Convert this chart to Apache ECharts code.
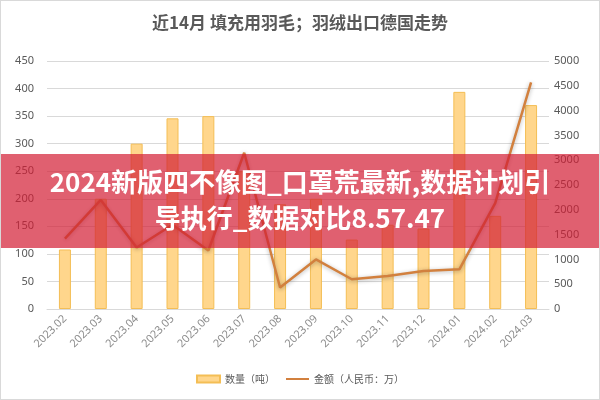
<!DOCTYPE html>
<html>
<head>
<meta charset="utf-8">
<script src="https://cdn.jsdelivr.net/npm/echarts@6/dist/echarts.min.js"></script>
<style>
html,body{margin:0;padding:0;background:#fff;}
#c{width:600px;height:400px;box-sizing:border-box;border:1px solid #d9d9d9;}
</style>
</head>
<body>
<div id="c"></div>
<script>
var categories = ['2023.02','2023.03','2023.04','2023.05','2023.06','2023.07','2023.08','2023.09','2023.10','2023.11','2023.12','2024.01','2024.02','2024.03'];
var quantity = [108, 200, 300, 346, 350, 250, 190, 200, 126, 153, 146, 394, 169, 370];
var amount = [1420, 2200, 1240, 1700, 1180, 3150, 433, 1000, 600, 667, 767, 800, 2133, 4567];
var leftTicks = [0, 450, 50];
var rightTicks = [0, 5000, 500];
var titleText = '近14月 填充用羽毛；羽绒出口德国走势';
var bannerLines = ['2024新版四不像图_口罩荒最新,数据计划引', '导执行_数据对比8.57.47'];

var chart = echarts.init(document.getElementById('c'), null, {renderer:'canvas'});
var font = '"Noto Sans CJK SC", "Noto Sans", sans-serif';
var plain = function (v) { return String(v); };
chart.setOption({
  animation:false,
  title:{text:titleText,left:'center',top:8,textStyle:{fontFamily:font,fontSize:17,fontWeight:'bold',color:'#595959'}},
  grid:{left:46,right:50,top:60,bottom:90},
  legend:{bottom:10,left:'center',itemGap:10,itemWidth:23,itemHeight:7,
    textStyle:{fontFamily:font,fontSize:10,color:'#595959'},
    data:[{name:'数量（吨）',icon:'rect'},{name:'金额（人民币：万）',itemStyle:{opacity:0}}]},
  xAxis:{type:'category',data:categories,
    axisLine:{lineStyle:{color:'#d9d9d9'}},axisTick:{show:false},
    axisLabel:{rotate:45,fontFamily:'"Noto Sans", sans-serif',fontSize:11,color:'#8c8c8c',margin:8,interval:0}},
  yAxis:[
    {type:'value',min:leftTicks[0],max:leftTicks[1],interval:leftTicks[2],
     axisLine:{show:false},axisTick:{show:false},
     splitLine:{lineStyle:{color:'#d9d9d9'}},
     axisLabel:{fontFamily:'"Noto Sans", sans-serif',fontSize:11,color:'#595959',margin:13,formatter:plain}},
    {type:'value',min:rightTicks[0],max:rightTicks[1],interval:rightTicks[2],
     axisLine:{show:false},axisTick:{show:false},splitLine:{show:false},
     axisLabel:{fontFamily:'"Noto Sans", sans-serif',fontSize:11,color:'#595959',margin:5,formatter:plain}}
  ],
  series:[
    {name:'数量（吨）',type:'bar',data:quantity,barWidth:12,yAxisIndex:0,
     itemStyle:{color:'#FFD68C',borderColor:'#F4BE55',borderWidth:1}},
    {name:'金额（人民币：万）',type:'line',data:amount,yAxisIndex:1,symbol:'none',
     lineStyle:{color:'#D2803E',width:2.5,shadowBlur:4,shadowColor:'rgba(0,0,0,0.3)',shadowOffsetY:1},
     itemStyle:{color:'#D2803E'}}
  ],
  graphic:[
    {type:'rect',left:0,top:153,z:100,shape:{width:600,height:94},style:{fill:'rgba(211,28,51,0.7)'}},
    {type:'text',left:'center',top:168,z:101,style:{text:bannerLines[0],fill:'#fff',font:'bold 26px "Noto Sans CJK SC", sans-serif'}},
    {type:'text',left:'center',top:204,z:101,style:{text:bannerLines[1],fill:'#fff',font:'bold 26px "Noto Sans CJK SC", sans-serif'}}
  ]
});
</script>
</body>
</html>
